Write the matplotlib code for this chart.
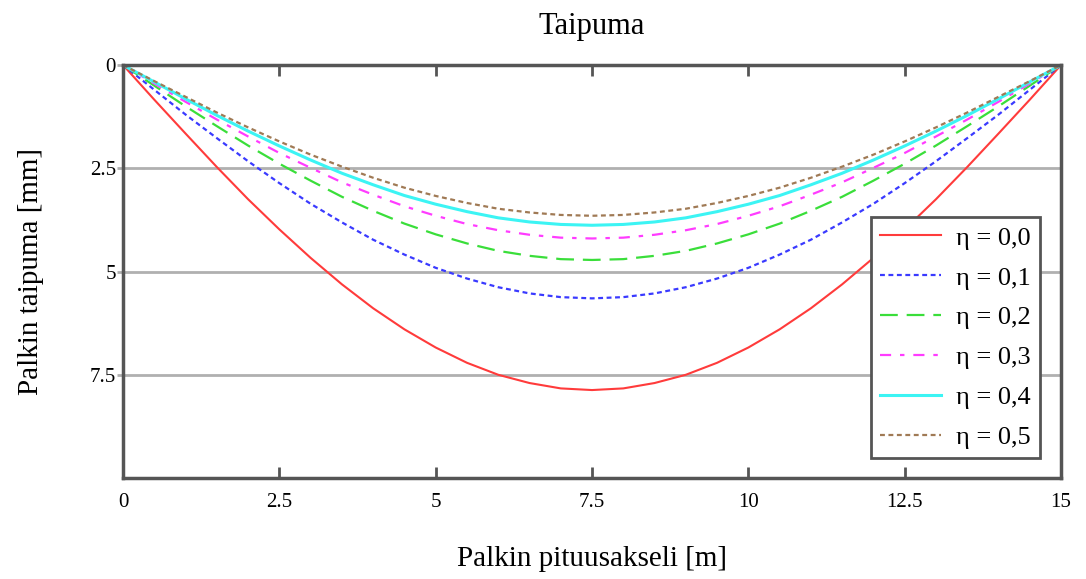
import numpy as np
import matplotlib
matplotlib.use("Agg")
import matplotlib.pyplot as plt

plt.rcParams['font.family'] = ['Liberation Serif', 'DejaVu Serif']

# beam axis positions [m]
x = [0, 0.5, 1, 1.5, 2, 2.5, 3, 3.5, 4, 4.5, 5, 5.5, 6, 6.5, 7, 7.5,
     8, 8.5, 9, 9.5, 10, 10.5, 11, 11.5, 12, 12.5, 13, 13.5, 14, 14.5, 15]

# deflection [mm]
eta_00 = [0, 0.84, 1.66, 2.47, 3.25, 3.98, 4.67, 5.31, 5.89, 6.40, 6.84, 7.21, 7.50, 7.70, 7.83, 7.87,
          7.83, 7.70, 7.50, 7.21, 6.84, 6.40, 5.89, 5.31, 4.67, 3.98, 3.25, 2.47, 1.66, 0.84, 0]
eta_01 = [0, 0.60, 1.20, 1.77, 2.33, 2.86, 3.36, 3.81, 4.23, 4.59, 4.91, 5.17, 5.38, 5.53, 5.62, 5.65,
          5.62, 5.53, 5.38, 5.17, 4.91, 4.59, 4.23, 3.81, 3.36, 2.86, 2.33, 1.77, 1.20, 0.60, 0]
eta_02 = [0, 0.50, 1.00, 1.48, 1.95, 2.39, 2.80, 3.19, 3.53, 3.84, 4.10, 4.32, 4.50, 4.62, 4.70, 4.72,
          4.70, 4.62, 4.50, 4.32, 4.10, 3.84, 3.53, 3.19, 2.80, 2.39, 1.95, 1.48, 1.00, 0.50, 0]
eta_03 = [0, 0.45, 0.89, 1.32, 1.73, 2.13, 2.49, 2.84, 3.14, 3.42, 3.65, 3.85, 4.00, 4.11, 4.18, 4.20,
          4.18, 4.11, 4.00, 3.85, 3.65, 3.42, 3.14, 2.84, 2.49, 2.13, 1.73, 1.32, 0.89, 0.45, 0]
eta_04 = [0, 0.41, 0.82, 1.22, 1.60, 1.96, 2.30, 2.62, 2.90, 3.16, 3.37, 3.55, 3.70, 3.80, 3.86, 3.88,
          3.86, 3.80, 3.70, 3.55, 3.37, 3.16, 2.90, 2.62, 2.30, 1.96, 1.60, 1.22, 0.82, 0.41, 0]
eta_05 = [0, 0.39, 0.77, 1.15, 1.51, 1.85, 2.17, 2.46, 2.73, 2.97, 3.17, 3.34, 3.48, 3.57, 3.63, 3.65,
          3.63, 3.57, 3.48, 3.34, 3.17, 2.97, 2.73, 2.46, 2.17, 1.85, 1.51, 1.15, 0.77, 0.39, 0]

labels = ["η = 0,0", "η = 0,1", "η = 0,2", "η = 0,3", "η = 0,4", "η = 0,5"]
series = [eta_00, eta_01, eta_02, eta_03, eta_04, eta_05]
colors = ["#ff3b3b", "#3a3aff", "#3ade3a", "#ff3cff", "#3cf4f4", "#a07a55"]
styles = ["-", (0, (2.2, 1.6)), (0, (8, 4)), (0, (5, 4, 2, 4)), "-", (0, (2.2, 1.6))]
widths = [1.5, 1.6, 1.6, 1.6, 2.2, 1.6]

fig = plt.figure(figsize=(10.86, 5.79), dpi=100)
ax = fig.add_axes([0.1133, 0.1744, 0.8637, 0.7133])

for ys, lab, c, ls, lw in zip(series, labels, colors, styles, widths):
    ax.plot(x, ys, color=c, linestyle=ls, linewidth=lw, label=lab)

ax.set_xlim(0, 15)
ax.set_ylim(10, 0)
ax.set_xticks([0, 2.5, 5, 7.5, 10, 12.5, 15])
ax.set_xticklabels(["0", "2.5", "5", "7.5", "10", "12.5", "15"])
ax.set_yticks([0, 2.5, 5, 7.5])
ax.set_yticklabels(["0", "2.5", "5", "7.5"])
ax.yaxis.grid(True, color="#b0b0b0", linewidth=2)
ax.set_axisbelow(True)

ax.tick_params(axis='x', direction='in', length=8, width=2, color="#555555",
               top=True, labelsize=15, pad=11)
ax.tick_params(axis='y', direction='out', length=4, width=2, color="#b0b0b0",
               labelsize=15, pad=1)
for sp in ax.spines.values():
    sp.set_color("#555555")
    sp.set_linewidth(2.5)

ax.set_title("Taipuma", fontsize=22, pad=22)
ax.set_xlabel("Palkin pituusakseli [m]", fontsize=21, labelpad=24)
ax.set_ylabel("Palkin taipuma [mm]", fontsize=21, labelpad=33)

leg = ax.legend(loc='upper left', bbox_to_anchor=(0.797, 0.632), fontsize=19,
                frameon=True, fancybox=False, handlelength=2.3, labelspacing=0.62,
                borderpad=0.35, handletextpad=0.6, borderaxespad=0)
leg.get_frame().set_edgecolor("#555555")
leg.get_frame().set_linewidth(2)
leg.get_frame().set_alpha(1)

plt.savefig("out.png", dpi=100)
